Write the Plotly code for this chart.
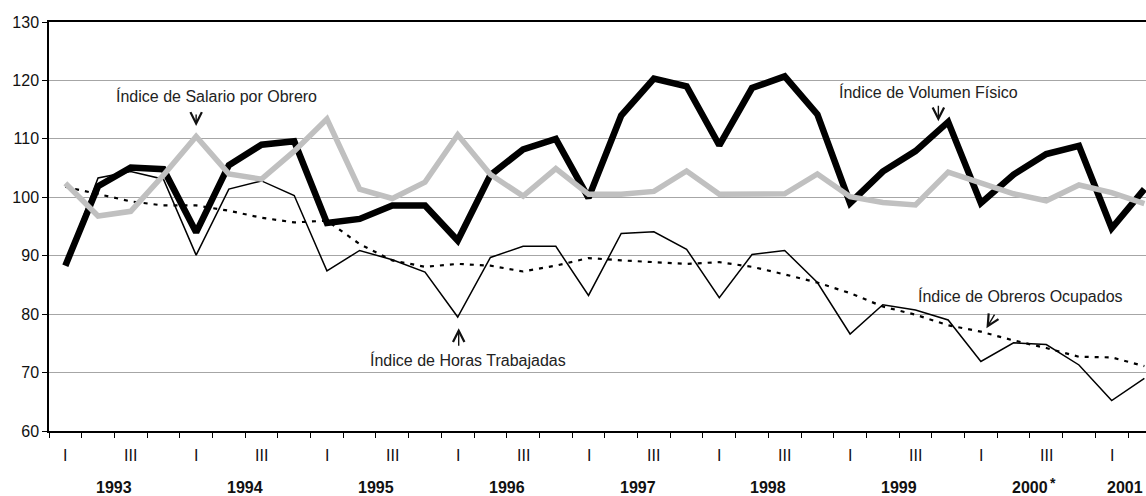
#%%
import plotly.graph_objects as go

# quarterly indices, 1993 I .. 2001 II
years = ['1993', '1994', '1995', '1996', '1997', '1998', '1999', '2000', '2001']
quarter_labels = ['I', '', 'III', ''] * 8 + ['I', '']

volumen_fisico = [88.3, 101.9, 105.1, 104.8, 94.0, 105.5, 109.0, 109.6, 95.6, 96.3, 98.6, 98.6,
                  92.6, 103.8, 108.2, 110.0, 99.9, 114.0, 120.3, 119.0, 108.9, 118.7, 120.7, 114.2,
                  99.0, 104.4, 107.9, 112.9, 99.0, 103.9, 107.4, 108.8, 94.7, 101.4]
salario_obrero = [102.4, 96.8, 97.6, 103.8, 110.4, 104.0, 103.1, 107.9, 113.4, 101.4, 99.8, 102.6,
                  110.7, 103.9, 100.2, 104.9, 100.5, 100.5, 101.0, 104.5, 100.5, 100.5, 100.6, 104.0,
                  100.1, 99.1, 98.7, 104.3, 102.5, 100.6, 99.4, 102.1, 100.8, 98.9]
horas_trabajadas = [88.6, 103.3, 104.4, 103.1, 90.1, 101.4, 102.8, 100.3, 87.4, 90.9, 89.3, 87.2,
                    79.5, 89.7, 91.6, 91.6, 83.2, 93.8, 94.1, 91.1, 82.8, 90.2, 90.9, 85.4,
                    76.6, 81.6, 80.7, 79.0, 71.9, 75.1, 74.8, 71.3, 65.2, 69.0]
obreros_ocupados = [101.8, 100.5, 99.3, 98.6, 98.6, 97.7, 96.5, 95.7, 96.0, 92.0, 89.2, 88.1,
                    88.6, 88.3, 87.3, 88.3, 89.6, 89.2, 88.9, 88.6, 88.9, 88.1, 86.8, 85.4,
                    83.6, 81.3, 79.9, 78.1, 77.0, 75.5, 74.2, 72.7, 72.6, 71.1]

x = list(range(len(volumen_fisico)))
x_range = [-0.5, 33.05]   # right side of the last year runs past the picture
FONT = 'Liberation Sans, Arial, sans-serif'


def to_paper(v):
    return (v - x_range[0]) / (x_range[1] - x_range[0])


# %%
fig = go.Figure()
fig.add_trace(go.Scatter(x=x, y=horas_trabajadas, mode='lines',
                         line=dict(color='black', width=1.5)))
fig.add_trace(go.Scatter(x=x, y=obreros_ocupados, mode='lines',
                         line=dict(color='black', width=2.2, dash='4px,6px')))
fig.add_trace(go.Scatter(x=x, y=volumen_fisico, mode='lines',
                         line=dict(color='black', width=6.5)))
fig.add_trace(go.Scatter(x=x, y=salario_obrero, mode='lines',
                         line=dict(color='#c0c0c0', width=5.5)))

annotations = []
# quarter and year labels under the axis
for i, q in enumerate(quarter_labels):
    if q:
        annotations.append(dict(x=to_paper(i), y=0, xref='paper', yref='paper', text=q,
                                showarrow=False, xanchor='center', yanchor='middle', yshift=-24,
                                font=dict(size=16, color='#111')))
for k, yr in enumerate(years):
    mid = 4 * k + 1.5
    if k == len(years) - 1:
        mid = 4 * k + 0.5   # only two quarters of 2001
        # right-anchored so it stays on the page
        annotations.append(dict(x=to_paper(mid), y=0, xref='paper', yref='paper',
                                text='<b>' + yr + '</b>', showarrow=False, xanchor='right',
                                xshift=17, yanchor='middle', yshift=-56,
                                font=dict(size=16, color='#111')))
        continue
    annotations.append(dict(x=to_paper(mid), y=0, xref='paper', yref='paper',
                            text='<b>' + yr + '</b>', showarrow=False, xanchor='center',
                            yanchor='middle', yshift=-56, font=dict(size=16, color='#111')))
annotations.append(dict(x=to_paper(4 * 7 + 1.5), y=0, xref='paper', yref='paper', text='<b>*</b>',
                        showarrow=False, xanchor='center', yanchor='middle', xshift=23, yshift=-52,
                        font=dict(size=14, color='#111')))

# series labels
labels = [('Índice de Salario por Obrero', 4.62, 117.3),
          ('Índice de Volumen Físico', 26.4, 118.0),
          ('Índice de Horas Trabajadas', 12.3, 72.1),
          ('Índice de Obreros Ocupados', 29.2, 83.1)]
for txt, lx, ly in labels:
    annotations.append(dict(x=lx, y=ly, text=txt, showarrow=False,
                            font=dict(size=16, color='#222')))

# pointer arrows
arrows = [(4, 112.2, 0, -13), (26.7, 113.0, 0, -17), (12.03, 77.6, 0, 19), (28.17, 77.6, 9, -15)]
for ax_, ay_, dx, dy in arrows:
    annotations.append(dict(x=ax_, y=ay_, text='', showarrow=True, arrowhead=5,
                            arrowsize=1.6, arrowwidth=1.4, arrowcolor='#111', ax=dx, ay=dy))

fig.update_layout(
    width=1146, height=496,
    margin=dict(l=49, r=0, t=22, b=65),
    paper_bgcolor='white', plot_bgcolor='white',
    showlegend=False,
    font=dict(family=FONT, size=16, color='#111'),
    annotations=annotations,
)
fig.update_xaxes(range=x_range, tickvals=[k - 0.5 for k in range(35)],
                 showticklabels=False, ticks='outside', ticklen=5, tickcolor='black',
                 showline=True, linecolor='black', linewidth=1.5, mirror=True,
                 showgrid=False, zeroline=False)
fig.update_yaxes(range=[60, 130], dtick=10, ticks='outside', ticklen=5, tickcolor='black',
                 showline=True, linecolor='black', linewidth=1.5,
                 showgrid=True, gridcolor='#a6a6a6', gridwidth=1, zeroline=False,
                 tickfont=dict(size=16, color='#111'))

# page has a default body margin; drop it so the figure sits at the corner
fig.write_html("out.html", config={'displayModeBar': False},
               post_script="document.body.style.margin='0';")
